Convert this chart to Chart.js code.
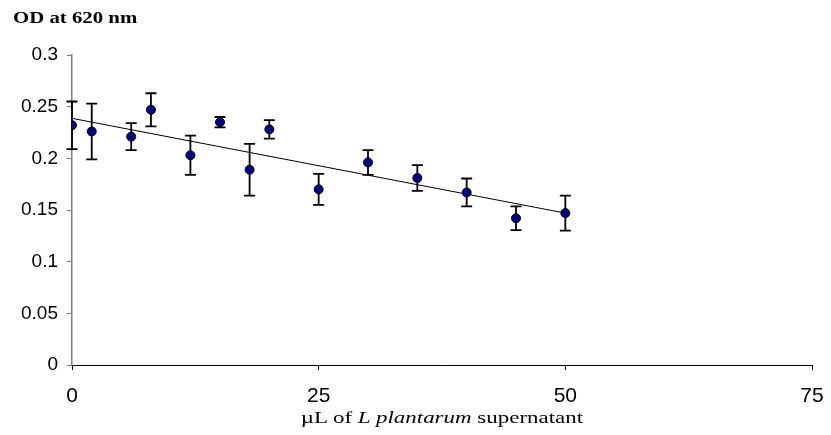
<!DOCTYPE html>
<html>
<head>
<meta charset="utf-8">
<script src="https://cdn.jsdelivr.net/npm/chart.js@4"></script>
<style>
html, body { margin: 0; padding: 0; background: #fff; }
#wrap { position: relative; width: 831px; height: 435px; }
#title {
    position: absolute; left: 13px; top: 10px;
    font: bold 16px "Liberation Serif"; line-height: 1;
    transform: scaleX(1.3); transform-origin: 0 0; white-space: nowrap;
}
#xtitle {
    position: absolute; left: 442px; top: 409px;
    font: 17px "Liberation Serif"; line-height: 1;
    transform: translateX(-50%) scaleX(1.35); white-space: nowrap;
}
</style>
</head>
<body>
<div id="wrap">
    <canvas id="chart" width="831" height="435"></canvas>
    <div id="title">OD at 620 nm</div>
    <div id="xtitle">µL of <i>L plantarum</i> supernatant</div>
</div>
<script>
const doses = [0, 2, 6, 8, 12, 15, 18, 20, 25, 30, 35, 40, 45, 50];
const od = [0.232, 0.226, 0.221, 0.247, 0.203, 0.235, 0.189, 0.228, 0.170, 0.196, 0.181, 0.167, 0.142, 0.147];
const odErr = [0.023, 0.027, 0.013, 0.016, 0.019, 0.005, 0.025, 0.009, 0.015, 0.012, 0.0125, 0.0135, 0.0115, 0.017];
const trendX = [0, 50];
const trendY = [0.2387, 0.147];
const xTicks = [0, 25, 50, 75];
const yTicks = [0, 0.05, 0.1, 0.15, 0.2, 0.25, 0.3];

const errorBars = {
    id: "errorBars",
    beforeDatasetsDraw(chart) {
        const ctx = chart.ctx;
        const x = chart.scales.x;
        const y = chart.scales.y;
        ctx.save();
        ctx.strokeStyle = "#000";
        ctx.lineWidth = 1.8;
        doses.forEach((d, i) => {
            const px = x.getPixelForValue(d);
            const top = y.getPixelForValue(od[i] + odErr[i]);
            const bot = y.getPixelForValue(od[i] - odErr[i]);
            ctx.beginPath();
            ctx.moveTo(px, top);
            ctx.lineTo(px, bot);
            ctx.moveTo(px - 5.5, top);
            ctx.lineTo(px + 5.5, top);
            ctx.moveTo(px - 5.5, bot);
            ctx.lineTo(px + 5.5, bot);
            ctx.stroke();
        });
        ctx.restore();
    }
};

new Chart(document.getElementById("chart"), {
    type: "scatter",
    data: {
        datasets: [{
            data: doses.map((d, i) => ({ x: d, y: od[i] })),
            pointRadius: 4.5,
            backgroundColor: "#000080",
            borderColor: "#000",
            borderWidth: 1,
            order: 1
        }, {
            data: trendX.map((d, i) => ({ x: d, y: trendY[i] })),
            showLine: true,
            pointRadius: 0,
            borderColor: "#000",
            borderWidth: 1,
            order: 2
        }]
    },
    options: {
        responsive: false,
        animation: false,
        devicePixelRatio: 1,
        layout: { padding: { top: 55, right: 19, left: 0, bottom: 0 } },
        plugins: { legend: { display: false }, tooltip: { enabled: false } },
        scales: {
            x: {
                type: "linear",
                min: 0,
                max: 75,
                afterBuildTicks: s => { s.ticks = xTicks.map(v => ({ value: v })); },
                afterFit: s => { s.height = 70; s.paddingRight = 0; s.paddingLeft = 0; },
                ticks: {
                    font: { family: "Liberation Sans", size: 21 },
                    color: "#000",
                    padding: 14,
                    maxRotation: 0
                },
                grid: { display: true, drawOnChartArea: false, drawTicks: true, tickLength: 5, color: "#000" },
                border: { color: "#000", width: 1 }
            },
            y: {
                min: 0,
                max: 0.3,
                afterBuildTicks: s => { s.ticks = yTicks.map(v => ({ value: v })); },
                afterFit: s => { s.width = 72; s.paddingTop = 0; s.paddingBottom = 0; },
                ticks: {
                    font: { family: "Liberation Sans", size: 19 },
                    color: "#000",
                    padding: 9,
                    callback: v => String(v)
                },
                grid: { display: true, drawOnChartArea: false, drawTicks: true, tickLength: 5, color: "#808080" },
                border: { color: "#808080", width: 1.5 }
            }
        }
    },
    plugins: [errorBars]
});
</script>
</body>
</html>
